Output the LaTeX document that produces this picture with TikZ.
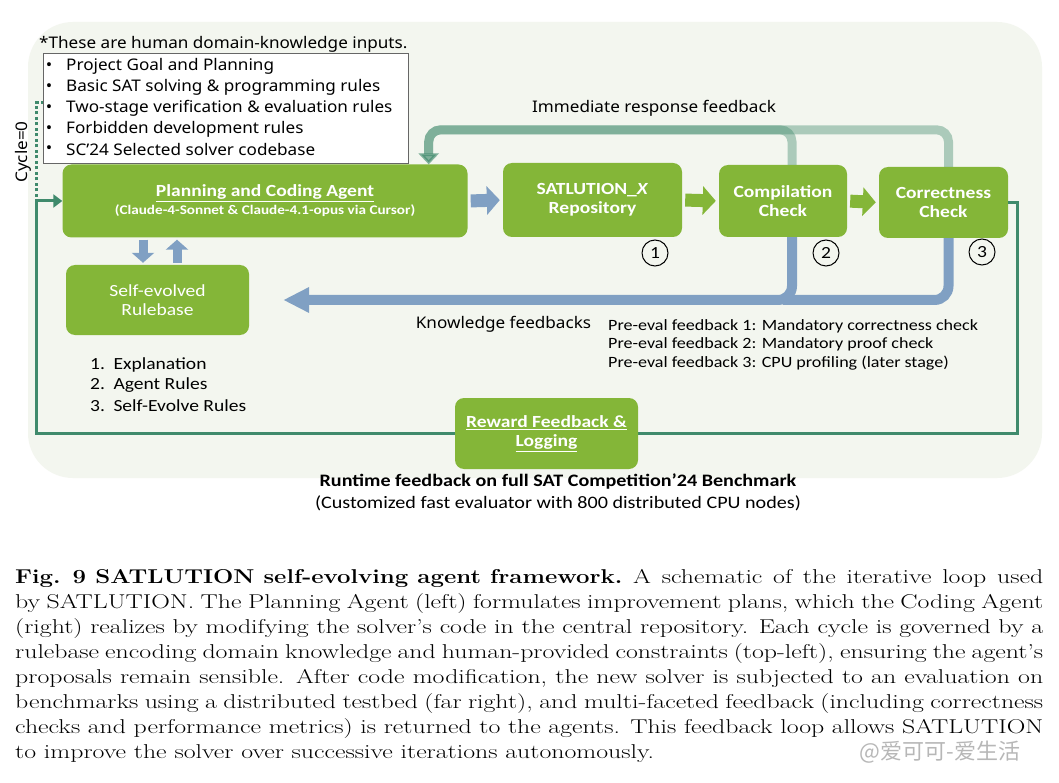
\documentclass[tikz,border=0pt]{standalone}
\usepackage{fontspec}
\usepackage{graphicx}
\newfontfamily\labelfont{Noto Sans}[FakeStretch=1.07]
\newfontfamily\boxfont{Carlito}[FakeStretch=1.15]
\newfontfamily\capfont{Latin Modern Roman}[FakeStretch=1.29]
\newfontfamily\cjkfont{Noto Sans CJK SC}
\usetikzlibrary{arrows.meta,calc}
\definecolor{boxgreen}{HTML}{84B638}
\definecolor{loopteal}{HTML}{3F8A6C}
\definecolor{fbblue}{HTML}{80A0C3}
\definecolor{bgpanel}{HTML}{F3F6EF}
\tikzset{
  agent/.style={rounded corners=9pt,fill=boxgreen,text=white,align=center,inner sep=0pt,
    font=\boxfont\bfseries\fontsize{17}{19}\selectfont},
  fatblue/.style={draw=fbblue,line width=13pt,-{Triangle[length=13pt,width=28pt]},shorten >=3pt,shorten <=3pt},
  fatgreen/.style={fatblue,draw=boxgreen},
  smallblue/.style={draw=fbblue,line width=9pt,-{Triangle[length=10pt,width=22pt]},shorten >=2pt,shorten <=2pt},
  immfb/.style={draw=loopteal,opacity=0.4,line width=9pt,rounded corners=12pt,-{Triangle[length=11pt,width=20pt]}},
  knowfb/.style={draw=fbblue,line width=10pt,rounded corners=14pt},
  loopline/.style={draw=loopteal,line width=3pt},
  stepnum/.style={circle,draw,line width=1pt,minimum size=26pt,inner sep=0pt,font=\boxfont\fontsize{17}{19}\selectfont},
  lbl/.style={font=\labelfont\fontsize{16}{18}\selectfont,inner sep=0pt},
  narrowlbl/.style={font=\boxfont\fontsize{17}{19}\selectfont,inner sep=0pt}
}
\begin{document}
\begin{tikzpicture}[x=1pt,y=-1pt]
\fill[white] (0,0) rectangle (1059,783);
\useasboundingbox (0,0) rectangle (1059,783);
\fill[bgpanel,rounded corners=45pt] (28,22) rectangle (1042,478);

% human inputs
\node[lbl,anchor=west] (hdr) at (39,44) {*These are human domain-knowledge inputs.};
\node[draw=black!60,line width=0.6pt,fill=white,minimum width=365pt,minimum height=110pt,inner sep=0pt] (rules) at (225.5,108) {};
\foreach \txt [count=\i] in {Project Goal and Planning,Basic SAT solving \& programming rules,
  Two-stage verification \& evaluation rules,Forbidden development rules,SC’24 Selected solver codebase}
  {
  \node[lbl] at (49,46+20.8*\i) {•};
  \node[lbl,anchor=west] at (66,46+20.8*\i) {\txt};
  }

% boxes
\node[agent,minimum width=405pt,minimum height=73pt] (plan) at (265,201)
  {\underline{Planning and Coding Agent}\\[-1pt]{\fontsize{13.2}{15}\selectfont(Claude-4-Sonnet \& Claude-4.1-opus via Cursor)}};
\node[agent,minimum width=179pt,minimum height=74pt] (repo) at (592.5,200) {SATLUTION\_\textit{X}\\Repository};
\node[agent,minimum width=128pt,minimum height=72pt] (comp) at (783,201) {Compilation\\Check};
\node[agent,minimum width=129pt,minimum height=71pt] (corr) at (943.5,202.5) {Correctness\\Check};
\node[agent,font=\boxfont\fontsize{17}{19}\selectfont,minimum width=183pt,minimum height=70pt] (rulebase) at (157.5,300) {Self-evolved\\Rulebase};

\node[stepnum] (n1) at (655,253) {1};
\node[stepnum] (n2) at (826,253) {2};
\node[stepnum] (n3) at (982,252) {3};

% main flow
\draw[fatblue] (plan.east) -- (repo.west);
\draw[fatgreen] (repo.east) -- (comp.west);
\draw[fatgreen] (comp.east) -- (corr.west);
\draw[smallblue] ([xshift=-14.5pt]rulebase.north |- plan.south) -- ([xshift=-14.5pt]rulebase.north);
\draw[smallblue] ([xshift=19.5pt]rulebase.north) -- ([xshift=19.5pt]rulebase.north |- plan.south);

% immediate feedback
\draw[immfb] ([xshift=9pt]comp.north) -- ++(0,-35) -| ([xshift=-39pt]plan.north east);
\draw[immfb] ([xshift=5pt]corr.north) -- ++(0,-37) -| ([xshift=-39pt]plan.north east);
\node[lbl] (immlbl) at (654,108) {Immediate response feedback};

% knowledge feedback
\draw[knowfb] ([xshift=5pt]corr.south) |- (comp.south |- rulebase.east);
\draw[knowfb,-{Triangle[length=26pt,width=24pt]}] ([xshift=9pt]comp.south) |- ([xshift=34pt]rulebase.east);
\node[lbl] (knowlbl) at (503.5,324) {Knowledge feedbacks};
\foreach \txt [count=\i] in {Pre-eval feedback 1: Mandatory correctness check,
  Pre-eval feedback 2: Mandatory proof check,Pre-eval feedback 3: CPU profiling (later stage)}
  \node[narrowlbl,font=\boxfont\fontsize{15.7}{18}\selectfont,anchor=west] at (608,307.5+18.5*\i) {\txt};

\foreach \txt [count=\i] in {Explanation,Agent Rules,Self-Evolve Rules}
  \node[narrowlbl,anchor=west] at (90,344+20.5*\i) {\i.\enspace\txt};

% runtime loop
\draw[loopline,dash pattern=on 3pt off 2.5pt] (36,197) -- (36,103) -- (rules.west |- 0,103);
\draw[loopline,-{Triangle[length=9pt,width=13pt]}] (corr.east) -- (1017,202.5) -- (1017,433) -- (36,433) -- (36,201) -- (plan.west);
\node[lbl,rotate=90] (cyc) at (23,152) {Cycle=0};
\node[agent,minimum width=183pt,minimum height=71pt] (reward) at (546.5,433.5) {\underline{Reward Feedback \&}\\\underline{Logging}};
\node[narrowlbl,font=\boxfont\bfseries\fontsize{17.5}{19}\selectfont] (runtime) at (558,482) {Runtime feedback on full SAT Competition’24 Benchmark};
\node[narrowlbl,font=\boxfont\fontsize{17.5}{19}\selectfont] (evaluator) at (558,503) {(Customized fast evaluator with 800 distributed CPU nodes)};

% caption
\node[anchor=north west,text width=1028pt,align=justify,inner sep=0pt,font=\capfont\fontsize{20}{25}\selectfont] (caption) at (15,569)
{\scalebox{0.93}[1]{\textbf{Fig. 9}\enspace\textbf{SATLUTION self-evolving agent framework.}} A schematic of the iterative loop used\linebreak
by SATLUTION. The Planning Agent (left) formulates improvement plans, which the Coding Agent\linebreak
(right) realizes by modifying the solver’s code in the central repository. Each cycle is governed by a\linebreak
rulebase encoding domain knowledge and human-provided constraints (top-left), ensuring the agent’s\linebreak
proposals remain sensible. After code modification, the new solver is subjected to an evaluation on\linebreak
benchmarks using a distributed testbed (far right), and multi-faceted feedback (including correctness\linebreak
checks and performance metrics) is returned to the agents. This feedback loop allows SATLUTION\linebreak
to improve the solver over successive iterations autonomously.};
\node[font=\cjkfont\fontsize{22}{24}\selectfont,text=black!35,opacity=0.8] (mark) at (940,752) {@爱可可-爱生活};
\end{tikzpicture}
\end{document}
